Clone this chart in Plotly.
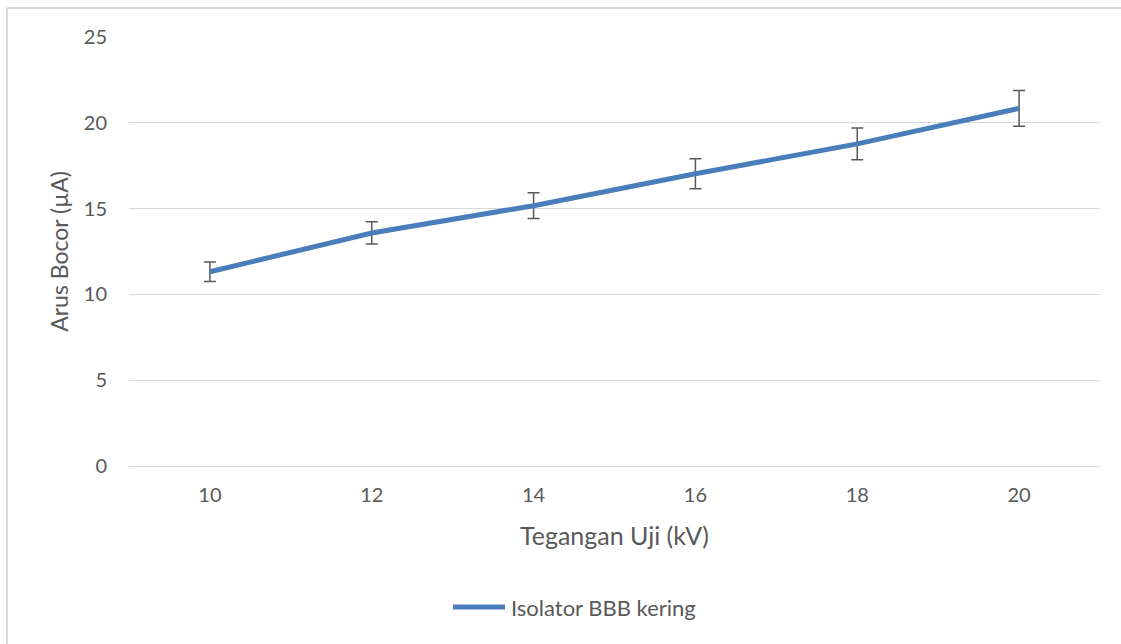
import plotly.graph_objects as go

tegangan = ["10", "12", "14", "16", "18", "20"]
arus = [11.32, 13.58, 15.17, 17.03, 18.77, 20.84]
galat = [0.57, 0.65, 0.75, 0.87, 0.93, 1.04]
y_ticks = [0, 5, 10, 15, 20, 25]
series_name = "Isolator BBB kering"

FONT = "Lato, 'Open Sans', sans-serif"
GREY = "#595959"
LINE_COLOR = "#4a7ebb"

W, H = 1121, 644
L, R, T, B = 129, 21, 37, 178
pw, ph = W - L - R, H - T - B


def px(x):
    return (x - L) / pw


def py(y):
    return (H - B - y) / ph


fig = go.Figure()
fig.add_trace(go.Scatter(
    x=tegangan, y=arus, mode="lines", name=series_name,
    line=dict(color=LINE_COLOR, width=5),
    error_y=dict(type="data", array=galat, visible=True, color=GREY, thickness=1.5, width=6),
    showlegend=False,
))

fig.update_layout(
    width=W, height=H,
    margin=dict(l=L, r=R, t=T, b=B),
    paper_bgcolor="white", plot_bgcolor="white",
    font=dict(family=FONT, color=GREY, size=20),
    xaxis=dict(type="category", range=[-0.5, 5.5], showgrid=False, showline=False,
               zeroline=False, ticks="", ticklabelstandoff=15,
               tickfont=dict(size=20, color=GREY),
               title=dict(text="Tegangan Uji (kV)", font=dict(size=25, color=GREY), standoff=22)),
    yaxis=dict(range=[0, 25], tickvals=y_ticks, showgrid=True, gridcolor="#d9d9d9", gridwidth=1,
               zeroline=True, zerolinecolor="#d9d9d9", zerolinewidth=1, showline=False,
               ticks="", ticklabelstandoff=21, tickfont=dict(size=20, color=GREY),
               title=dict(text="Arus Bocor (µA)", font=dict(size=23, color=GREY), standoff=8)),
)

# legend drawn to match the reference's long legend key
fig.add_shape(type="line", xref="paper", yref="paper", x0=px(453), x1=px(505), y0=py(607), y1=py(607),
              line=dict(color=LINE_COLOR, width=5))
fig.add_annotation(xref="paper", yref="paper", x=px(509), y=py(607), xanchor="left", yanchor="middle",
                   text=series_name, showarrow=False, font=dict(size=22, color=GREY))

# chart frame (left and top edges visible in reference)
fig.add_shape(type="line", xref="paper", yref="paper", x0=px(7), x1=px(1125), y0=py(8), y1=py(8),
              line=dict(color="#d9d9d9", width=2))
fig.add_shape(type="line", xref="paper", yref="paper", x0=px(7), x1=px(7), y0=py(8), y1=py(650),
              line=dict(color="#d9d9d9", width=2))

fig.write_html("out.html", config={"displayModeBar": False},
               post_script="document.body.style.margin='0';")
